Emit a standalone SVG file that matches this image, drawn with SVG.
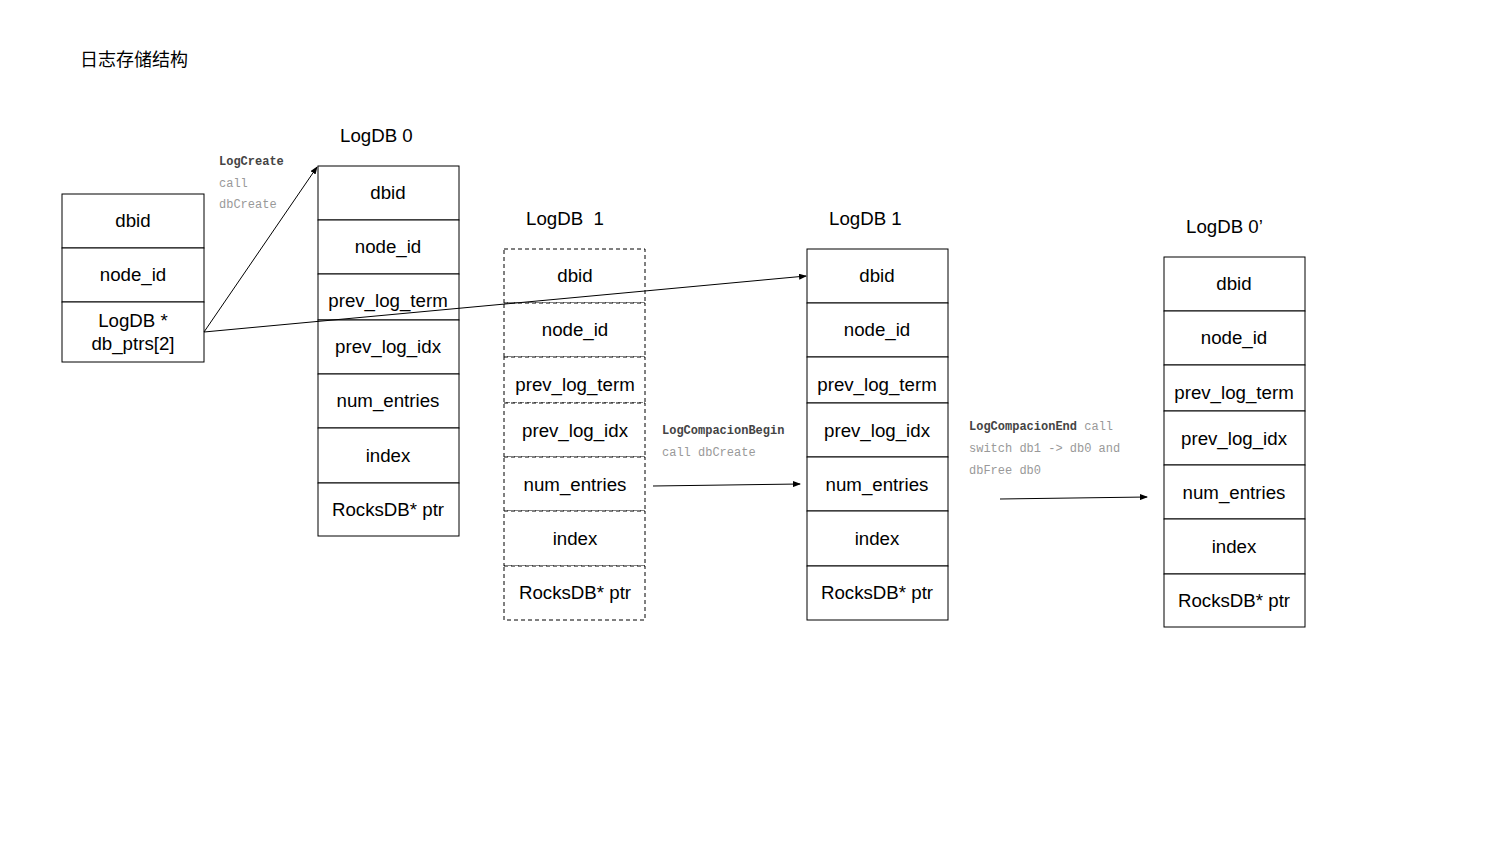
<svg xmlns="http://www.w3.org/2000/svg" width="1500" height="864" viewBox="0 0 1500 864">
<defs>
<marker id="ah" markerWidth="8" markerHeight="6" refX="7" refY="3" orient="auto" markerUnits="userSpaceOnUse"><path d="M0,0 L8,3 L0,6 Z" fill="#000"/></marker>
<style>
.box{fill:#fff;stroke:#000;stroke-width:1}
.dash{fill:#fff;stroke:#000;stroke-width:1;stroke-dasharray:4,3}
.t{font-family:"Liberation Sans",Arial,sans-serif;font-size:18.7px;fill:#000;text-anchor:middle}
.h{font-family:"Liberation Sans",Arial,sans-serif;font-size:18.7px;fill:#000}
.m{font-family:"Liberation Mono","Courier New",monospace;font-size:12px;fill:#999}
.mb{font-family:"Liberation Mono","Courier New",monospace;font-size:12px;fill:#444;font-weight:bold}
.c{stroke:#000;stroke-width:1;fill:none;marker-end:url(#ah)}
</style>
</defs>
<rect width="1500" height="864" fill="#fff"/>
<text x="80" y="66" font-family="'Noto Sans CJK SC',sans-serif" font-size="18" fill="#000">日志存储结构</text>

<g id="root">
<rect class="box" x="62" y="194" width="142" height="54"/>
<rect class="box" x="62" y="248" width="142" height="54"/>
<rect class="box" x="62" y="302" width="142" height="60"/>
<text class="t" x="133" y="227">dbid</text>
<text class="t" x="133" y="281">node_id</text>
<text class="t" x="133" y="327">LogDB *</text>
<text class="t" x="133" y="350">db_ptrs[2]</text>
</g>

<g id="logdb0">
<text class="h" x="340" y="142">LogDB 0</text>
<rect class="box" x="318" y="166" width="141" height="54"/>
<rect class="box" x="318" y="220" width="141" height="54"/>
<rect class="box" x="318" y="274" width="141" height="46"/>
<rect class="box" x="318" y="320" width="141" height="54"/>
<rect class="box" x="318" y="374" width="141" height="54"/>
<rect class="box" x="318" y="428" width="141" height="55"/>
<rect class="box" x="318" y="483" width="141" height="53"/>
<text class="t" x="388" y="199">dbid</text>
<text class="t" x="388" y="253">node_id</text>
<text class="t" x="388" y="307">prev_log_term</text>
<text class="t" x="388" y="353">prev_log_idx</text>
<text class="t" x="388" y="407">num_entries</text>
<text class="t" x="388" y="462">index</text>
<text class="t" x="388" y="516">RocksDB* ptr</text>
</g>

<g id="logdb1_old">
<text class="h" x="526" y="225">LogDB&#160; 1</text>
<rect class="dash" x="504" y="249" width="141" height="54"/>
<rect class="dash" x="504" y="303" width="141" height="54"/>
<rect class="dash" x="504" y="357" width="141" height="46"/>
<rect class="dash" x="504" y="403" width="141" height="54"/>
<rect class="dash" x="504" y="457" width="141" height="54"/>
<rect class="dash" x="504" y="511" width="141" height="55"/>
<rect class="dash" x="504" y="566" width="141" height="54"/>
<text class="t" x="575" y="282">dbid</text>
<text class="t" x="575" y="336">node_id</text>
<text class="t" x="575" y="391">prev_log_term</text>
<text class="t" x="575" y="437">prev_log_idx</text>
<text class="t" x="575" y="491">num_entries</text>
<text class="t" x="575" y="545">index</text>
<text class="t" x="575" y="599">RocksDB* ptr</text>
</g>

<g id="logdb1">
<text class="h" x="829" y="225">LogDB 1</text>
<rect class="box" x="807" y="249" width="141" height="54"/>
<rect class="box" x="807" y="303" width="141" height="54"/>
<rect class="box" x="807" y="357" width="141" height="46"/>
<rect class="box" x="807" y="403" width="141" height="54"/>
<rect class="box" x="807" y="457" width="141" height="54"/>
<rect class="box" x="807" y="511" width="141" height="55"/>
<rect class="box" x="807" y="566" width="141" height="54"/>
<text class="t" x="877" y="282">dbid</text>
<text class="t" x="877" y="336">node_id</text>
<text class="t" x="877" y="391">prev_log_term</text>
<text class="t" x="877" y="437">prev_log_idx</text>
<text class="t" x="877" y="491">num_entries</text>
<text class="t" x="877" y="545">index</text>
<text class="t" x="877" y="599">RocksDB* ptr</text>
</g>

<g id="logdb0p">
<text class="h" x="1186" y="233">LogDB 0’</text>
<rect class="box" x="1164" y="257" width="141" height="54"/>
<rect class="box" x="1164" y="311" width="141" height="54"/>
<rect class="box" x="1164" y="365" width="141" height="46"/>
<rect class="box" x="1164" y="411" width="141" height="54"/>
<rect class="box" x="1164" y="465" width="141" height="54"/>
<rect class="box" x="1164" y="519" width="141" height="55"/>
<rect class="box" x="1164" y="574" width="141" height="53"/>
<text class="t" x="1234" y="290">dbid</text>
<text class="t" x="1234" y="344">node_id</text>
<text class="t" x="1234" y="399">prev_log_term</text>
<text class="t" x="1234" y="445">prev_log_idx</text>
<text class="t" x="1234" y="499">num_entries</text>
<text class="t" x="1234" y="553">index</text>
<text class="t" x="1234" y="607">RocksDB* ptr</text>
</g>

<g id="labels">
<text class="mb" x="219" y="165">LogCreate</text>
<text class="m" x="219" y="187">call</text>
<text class="m" x="219" y="208">dbCreate</text>
<text class="mb" x="662" y="434">LogCompacionBegin</text>
<text class="m" x="662" y="456">call dbCreate</text>
<text x="969" y="430"><tspan class="mb">LogCompacionEnd</tspan><tspan class="m"> call</tspan></text>
<text class="m" x="969" y="452">switch db1 -&gt; db0 and</text>
<text class="m" x="969" y="474">dbFree db0</text>
</g>

<g id="connectors">
<line class="c" x1="204" y1="332" x2="317" y2="167"/>
<line class="c" x1="204" y1="332" x2="806" y2="276"/>
<line class="c" x1="653" y1="486" x2="800" y2="484"/>
<line class="c" x1="1000" y1="499" x2="1147" y2="497"/>
</g>
</svg>
